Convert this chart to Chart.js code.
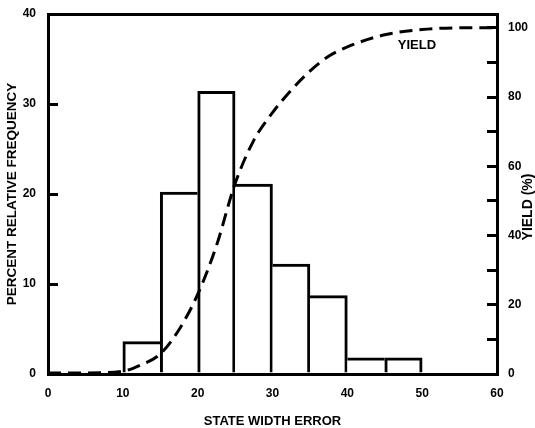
<!DOCTYPE html>
<html><head><meta charset="utf-8">
<script src="https://cdn.jsdelivr.net/npm/chart.js@4.4.1/dist/chart.umd.min.js"></script>
<style>html,body{margin:0;padding:0;background:#fff;overflow:hidden}canvas{display:block}</style>
</head><body>
<canvas id="c" width="535" height="428"></canvas>
<script>
// ---- data ----
const binCenters = [12.5, 17.5, 22.5, 27.5, 32.5, 37.5, 42.5, 47.5];
const frequency  = [3.6, 20.2, 31.4, 21.1, 12.2, 8.7, 1.8, 1.8];
const yieldX   = [0, 5, 10, 12.5, 15, 17.5, 20, 22.5, 25, 27.5, 30, 32.5, 35, 37.5, 40, 45, 50, 55, 60];
const yieldPct = [0.3, 0.3, 0.8, 2.7, 5.8, 12.8, 23, 37, 55, 67.5, 75.5, 82, 87.5, 91.8, 94.5, 98, 99.5, 100, 100];
const xTicks = [0, 10, 20, 30, 40, 50, 60];
const freqTicks = [0, 10, 20, 30, 40];
const yieldTickMarks = [0, 10, 20, 30, 40, 50, 60, 70, 80, 90, 100];
const yieldLabelStep = 20;
const xTitle = 'STATE WIDTH ERROR';
const yTitle = 'PERCENT RELATIVE FREQUENCY';
const y2Title = 'YIELD (%)';
const curveLabel = 'YIELD';
const curveLabelAt = {x: 49.3, y: 95};

const FONT = '"Liberation Sans", Arial, Helvetica, sans-serif';
const INK = '#000';

const textPlugin = {
  id: 'texts',
  afterDraw(chart) {
    const ctx = chart.ctx, a = chart.chartArea, s2 = chart.scales.y2;
    ctx.save();
    ctx.fillStyle = INK;
    ctx.textAlign = 'center';
    ctx.textBaseline = 'middle';
    ctx.font = 'bold 14px ' + FONT;
    ctx.translate(s2.right - 7, (a.top + a.bottom) / 2 + 13);
    ctx.rotate(-Math.PI / 2);
    ctx.fillText(y2Title, 0, 0);
    ctx.restore();

    ctx.save();
    ctx.fillStyle = INK;
    ctx.textAlign = 'center';
    ctx.textBaseline = 'middle';
    ctx.font = 'bold 13px ' + FONT;
    ctx.fillText(curveLabel, chart.scales.x.getPixelForValue(curveLabelAt.x), s2.getPixelForValue(curveLabelAt.y));
    ctx.restore();
  }
};

function edgeWidths(ctx) {
  const i = ctx.dataIndex;
  if (i === undefined) return 3;
  const v = frequency[i];
  const prev = i > 0 ? frequency[i - 1] : -1;
  const next = i < frequency.length - 1 ? frequency[i + 1] : -1;
  return {top: 3, bottom: 0, left: v >= prev ? 3 : 0, right: v > next ? 3 : 0};
}

function fitVertical(w) {
  return s => { s.width = w; s.paddingTop = 0; s.paddingBottom = 0; };
}

new Chart(document.getElementById('c'), {
  type: 'bar',
  data: {
    datasets: [
      {
        type: 'line',
        label: 'Yield',
        data: yieldX.map((x, i) => ({x, y: yieldPct[i]})),
        xAxisID: 'x', yAxisID: 'y2',
        borderColor: INK, borderWidth: 3, borderDash: [13, 7],
        pointRadius: 0, fill: false, cubicInterpolationMode: 'monotone',
        order: 0
      },
      {
        type: 'bar',
        label: 'Frequency',
        data: binCenters.map((x, i) => ({x, y: frequency[i]})),
        xAxisID: 'x', yAxisID: 'y',
        backgroundColor: '#fff', borderColor: INK,
        borderWidth: edgeWidths, borderSkipped: false,
        barPercentage: 1, categoryPercentage: 1,
        order: 1
      }
    ]
  },
  options: {
    responsive: false, animation: false,
    layout: {padding: {top: 14, left: 0, right: 0, bottom: 0}},
    plugins: {legend: {display: false}, tooltip: {enabled: false}},
    scales: {
      x: {
        type: 'linear', position: 'bottom', min: 0, max: 60, offset: false,
        afterBuildTicks: s => { s.ticks = xTicks.map(v => ({value: v})); },
        afterFit: s => { s.height = 54; s.paddingLeft = 0; s.paddingRight = 0; },
        ticks: {color: INK, font: {family: FONT, size: 12, weight: 'bold'}, padding: 12, maxRotation: 0, autoSkip: false},
        grid: {display: false, drawTicks: false},
        border: {display: true, color: INK, width: 3},
        title: {display: true, text: xTitle, color: INK, font: {family: FONT, size: 13, weight: 'bold', lineHeight: 1}, padding: 0}
      },
      xTop: {
        type: 'linear', position: 'top', min: 0, max: 60, offset: false,
        afterFit: s => { s.height = 0; s.paddingLeft = 0; s.paddingRight = 0; },
        ticks: {display: false},
        grid: {display: false, drawTicks: false},
        border: {display: true, color: INK, width: 3}
      },
      y: {
        type: 'linear', position: 'left', min: 0, max: 40,
        afterBuildTicks: s => { s.ticks = freqTicks.map(v => ({value: v})); },
        afterFit: fitVertical(48),
        ticks: {color: INK, font: {family: FONT, size: 12, weight: 'bold'}, padding: 22},
        grid: {display: true, drawOnChartArea: false, drawTicks: true, tickLength: -10, color: INK, lineWidth: 3},
        border: {display: true, color: INK, width: 3},
        title: {display: true, text: yTitle, color: INK, font: {family: FONT, size: 13.5, weight: 'bold'}, padding: {top: 4, bottom: 0}}
      },
      y2: {
        type: 'linear', position: 'right', min: 0, max: 104,
        afterBuildTicks: s => { s.ticks = yieldTickMarks.map(v => ({value: v})); },
        afterFit: fitVertical(38),
        ticks: {color: INK, font: {family: FONT, size: 12, weight: 'bold'}, padding: 21,
                callback: v => (v % yieldLabelStep === 0 ? v : '')},
        grid: {display: true, drawOnChartArea: false, drawTicks: true, tickLength: -10, color: INK, lineWidth: 3},
        border: {display: true, color: INK, width: 3}
      }
    }
  },
  plugins: [textPlugin]
});
</script>
</body></html>
